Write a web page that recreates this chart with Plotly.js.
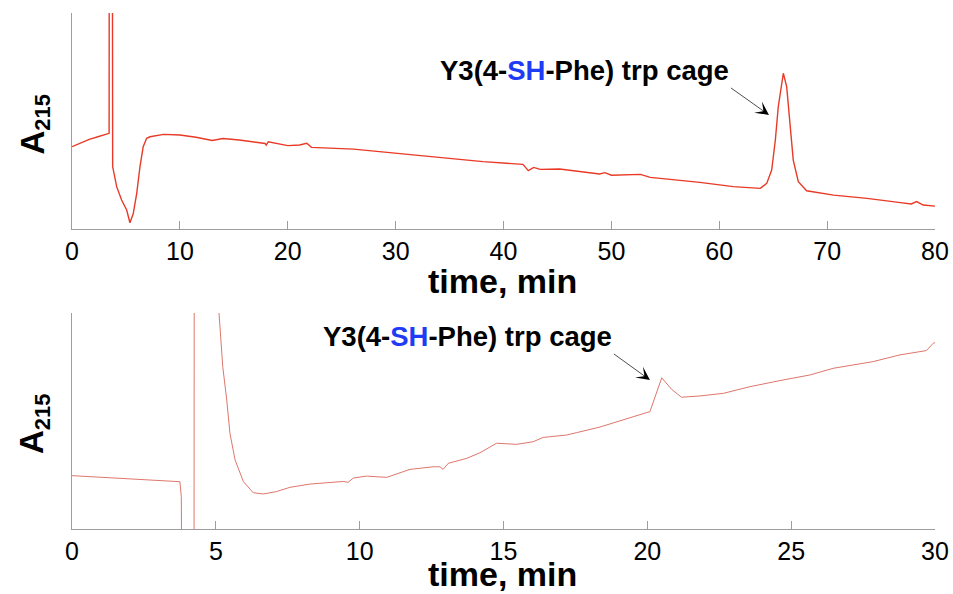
<!DOCTYPE html>
<html>
<head>
<meta charset="utf-8">
<script src="https://cdn.plot.ly/plotly-3.0.1.min.js"></script>
<style>html,body{margin:0;padding:0;background:#fff;}#chart{width:953px;height:594px;}</style>
</head>
<body>
<div id="chart"></div>
<script>
// Top chromatogram (0-80 min)
var topTime = [0, 0.8, 1.6, 2.4, 3.0, 3.44, 3.48, 3.68, 3.70, 3.77, 4.14, 4.6, 5.07, 5.37, 5.68, 6.0, 6.3, 6.6, 6.92, 7.23, 8.5, 10, 11.5, 13, 14, 15.5, 17, 17.9, 18.0, 18.2, 20, 21.1, 21.76, 22.2, 26.1, 30.1, 33.5, 38.1, 41.8, 42.3, 42.8, 43.4, 45.2, 47.4, 48.9, 49.4, 50.0, 52.7, 53.6, 58.2, 61.3, 63.8, 64.4, 64.86, 65.2, 65.47, 65.94, 66.25, 66.56, 66.86, 67.33, 68.1, 70.6, 73.7, 76.8, 77.8, 78.3, 78.9, 80];
var topA215 = [38.1, 39.8, 41.5, 42.7, 43.5, 44.3, 300, 300, 300, 28.8, 19.6, 13.4, 8.8, 2.9, 7.2, 16.5, 28.8, 38.1, 42.0, 42.7, 43.8, 43.5, 42.5, 41.0, 41.9, 41.2, 40.4, 39.6, 38.8, 40.4, 38.6, 38.9, 39.7, 37.8, 37.0, 35.0, 33.2, 31.2, 29.9, 27.0, 28.5, 27.6, 27.8, 26.5, 25.5, 26.1, 24.9, 25.3, 23.9, 21.6, 19.6, 18.8, 21.1, 27.3, 41.2, 56.6, 72.1, 65.9, 47.4, 31.9, 21.9, 17.7, 15.7, 14.2, 12.2, 11.6, 12.7, 11.1, 10.6];

// Bottom chromatogram (0-30 min)
var botTime = [0, 1, 2, 3, 3.75, 3.8, 3.84, 4.24, 4.25, 4.26, 5.0, 5.11, 5.24, 5.38, 5.49, 5.67, 5.96, 6.3, 6.65, 7.1, 7.58, 7.93, 8.27, 9.43, 9.6, 9.78, 10.24, 10.94, 11.4, 11.75, 12.56, 12.79, 12.9, 13.08, 13.72, 14.18, 14.76, 15.46, 16.03, 16.38, 16.6, 17.19, 17.54, 18.35, 19.98, 20.09, 20.5, 20.67, 20.84, 21.19, 21.83, 22.64, 23.57, 24.72, 25.65, 26.46, 27.85, 28.78, 29.7, 29.94, 30];
var botA215 = [24.7, 23.9, 23.3, 22.5, 21.9, 15, -80, -80, 400, 400, 200, 100, 75.2, 59.7, 44.3, 31.9, 21.9, 16.8, 16.2, 17.3, 19.3, 20.1, 20.8, 22.0, 21.6, 23.6, 24.5, 23.9, 25.8, 27.6, 28.8, 28.8, 27.6, 30.4, 32.7, 35.3, 39.7, 39.2, 40.4, 42.4, 42.7, 43.5, 44.6, 47.2, 53.9, 54.3, 70.0, 67.4, 64.7, 61.0, 61.6, 62.8, 65.9, 69.0, 71.3, 74.4, 77.5, 80.6, 82.6, 86.0, 86.3];

var topTicks = [0, 10, 20, 30, 40, 50, 60, 70, 80];
var botTicks = [0, 5, 10, 15, 20, 25, 30];
var peakLabel = '<b>Y3(4-<span style="color:#1f3cf5">SH</span>-Phe) trp cage</b>';
var xTitle = '<b>time, min</b>';
var yTitle = '<b>A<sub><span style="font-size:22px">215</span></sub></b>';

var FONT = 'Liberation Sans, Arial, Helvetica, sans-serif';
var AXC = '#9d9d9d';

var traces = [
  {x: topTime, y: topA215, type: 'scatter', mode: 'lines', xaxis: 'x', yaxis: 'y',
   line: {color: 'rgb(232,58,38)', width: 1.4}, hoverinfo: 'skip'},
  {x: botTime, y: botA215, type: 'scatter', mode: 'lines', xaxis: 'x2', yaxis: 'y2',
   line: {color: 'rgb(222,118,108)', width: 1}, hoverinfo: 'skip'}
];

function xAxis(range, ticks, anchor) {
  return {
    anchor: anchor, domain: [0, 1], range: range, tickvals: ticks,
    ticktext: ticks.map(String),
    ticks: 'inside', ticklen: 8, tickwidth: 1, tickcolor: AXC,
    showline: true, linecolor: AXC, linewidth: 1,
    showgrid: false, zeroline: false, automargin: false,
    tickfont: {family: FONT, size: 25, color: '#000'}
  };
}
function yAxis(domain, anchor) {
  return {
    anchor: anchor, domain: domain, range: [0, 100],
    showticklabels: false, ticks: '',
    showline: true, linecolor: AXC, linewidth: 1,
    showgrid: false, zeroline: false, automargin: false
  };
}

var annText = {family: FONT, size: 27.5, color: '#000'};
var xTitleFont = {family: FONT, size: 34, color: '#000'};
var yTitleFont = {family: FONT, size: 33, color: '#000'};
var layout = {
  width: 953, height: 594,
  margin: {l: 72, r: 18, t: 13, b: 65},
  paper_bgcolor: '#fff', plot_bgcolor: '#fff',
  showlegend: false,
  xaxis: xAxis([0, 80], topTicks, 'y'),
  yaxis: yAxis([0.5814, 1], 'x'),
  xaxis2: xAxis([0, 30], botTicks, 'y2'),
  yaxis2: yAxis([0, 0.4186], 'x2'),
  annotations: [
    // axis titles
    {xref: 'paper', yref: 'paper', x: 0.4988, y: 0.4800, text: xTitle, font: xTitleFont,
     showarrow: false, xanchor: 'center', yanchor: 'middle'},
    {xref: 'paper', yref: 'paper', x: 0.4988, y: -0.0870, text: xTitle, font: xTitleFont,
     showarrow: false, xanchor: 'center', yanchor: 'middle'},
    {xref: 'paper', yref: 'paper', x: -0.0440, y: 0.7839, text: yTitle, font: yTitleFont,
     textangle: -90, showarrow: false, xanchor: 'center', yanchor: 'middle'},
    {xref: 'paper', yref: 'paper', x: -0.0440, y: 0.2035, text: yTitle, font: yTitleFont,
     textangle: -90, showarrow: false, xanchor: 'center', yanchor: 'middle'},
    // peak labels
    {xref: 'x', yref: 'y', x: 64.61, y: 52.8, text: peakLabel, font: annText,
     xanchor: 'right', yanchor: 'bottom', borderpad: 1,
     showarrow: true, ax: -38, ay: -27,
     arrowhead: 3, arrowsize: 3.2, arrowwidth: 0.7, arrowcolor: '#000'},
    {xref: 'x2', yref: 'y2', x: 20.09, y: 69, text: peakLabel, font: annText,
     xanchor: 'right', yanchor: 'bottom', borderpad: 1,
     showarrow: true, ax: -36, ay: -26,
     arrowhead: 3, arrowsize: 3.2, arrowwidth: 0.7, arrowcolor: '#000'}
  ]
};

Plotly.newPlot('chart', traces, layout, {staticPlot: true, displayModeBar: false});
</script>
</body>
</html>
